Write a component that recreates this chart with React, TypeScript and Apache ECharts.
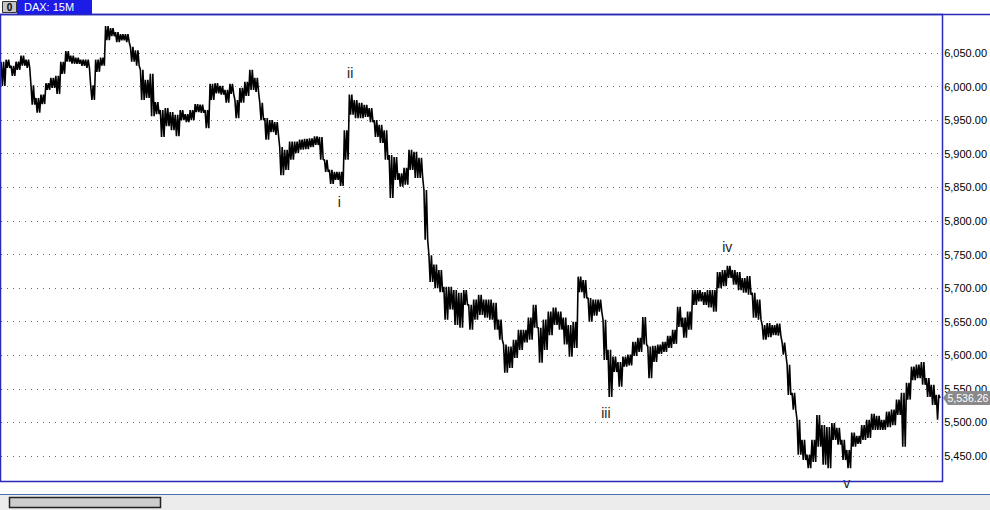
import React, { useEffect, useRef } from "react";
import * as echarts from "echarts";

// Per-bar (about every 5 px, 15-minute bars grouped) highs and lows of the DAX
const highs = [
  6037, 6040, 6031, 6037, 6046, 6040, 6002, 5983, 5988, 6005,
  6013, 6016, 6037, 6053, 6046, 6043, 6040, 6040, 6002, 6040,
  6043, 6090, 6087, 6081, 6078, 6078, 6059, 6054, 6025, 6010,
  6019, 5977, 5965, 5968, 5962, 5958, 5965, 5959, 5965, 5974,
  5973, 5965, 6004, 6005, 6001, 5995, 6004, 5980, 5998, 6007,
  6025, 6013, 5976, 5953, 5950, 5947, 5910, 5906, 5918, 5918,
  5921, 5922, 5923, 5926, 5925, 5891, 5876, 5873, 5873, 5935,
  5988, 5980, 5976, 5973, 5968, 5950, 5943, 5935, 5898, 5895,
  5871, 5879, 5906, 5903, 5894, 5846, 5749, 5735, 5727, 5702,
  5702, 5697, 5693, 5697, 5675, 5683, 5690, 5683, 5683, 5678,
  5653, 5616, 5613, 5623, 5638, 5638, 5656, 5675, 5641, 5653,
  5665, 5671, 5665, 5656, 5645, 5650, 5717, 5712, 5685, 5683,
  5683, 5653, 5608, 5598, 5590, 5598, 5601, 5620, 5626, 5657,
  5613, 5614, 5616, 5620, 5629, 5638, 5672, 5656, 5665, 5697,
  5697, 5694, 5697, 5697, 5724, 5727, 5733, 5727, 5724, 5715,
  5718, 5693, 5683, 5645, 5648, 5645, 5647, 5619, 5586, 5544,
  5504, 5474, 5452, 5474, 5511, 5496, 5493, 5499, 5492, 5474,
  5459, 5485, 5480, 5496, 5504, 5513, 5510, 5504, 5516, 5519,
  5534, 5544, 5559, 5583, 5586, 5590, 5566, 5556, 5541,
];
const lows = [
  6001, 6028, 6016, 6025, 6031, 6028, 5973, 5961, 5974, 5995,
  5998, 5989, 6019, 6037, 6034, 6034, 6031, 6028, 5980, 6022,
  6031, 6069, 6075, 6066, 6069, 6066, 6037, 6031, 5980, 5983,
  5956, 5959, 5925, 5941, 5935, 5926, 5950, 5947, 5950, 5962,
  5961, 5938, 5980, 5990, 5988, 5976, 5989, 5953, 5976, 5986,
  5995, 5992, 5950, 5921, 5932, 5928, 5868, 5876, 5891, 5901,
  5906, 5907, 5910, 5913, 5891, 5873, 5855, 5861, 5852, 5891,
  5958, 5953, 5953, 5955, 5947, 5925, 5916, 5891, 5834, 5861,
  5851, 5854, 5876, 5864, 5864, 5772, 5709, 5700, 5694, 5653,
  5668, 5645, 5641, 5675, 5638, 5653, 5660, 5656, 5653, 5638,
  5623, 5574, 5581, 5596, 5608, 5619, 5623, 5641, 5589, 5608,
  5630, 5645, 5638, 5616, 5598, 5611, 5694, 5685, 5650, 5659,
  5665, 5593, 5538, 5575, 5553, 5583, 5585, 5599, 5605, 5616,
  5566, 5590, 5602, 5605, 5611, 5617, 5642, 5626, 5638, 5675,
  5680, 5675, 5671, 5665, 5700, 5703, 5715, 5705, 5697, 5693,
  5690, 5656, 5653, 5623, 5627, 5630, 5629, 5601, 5541, 5519,
  5452, 5444, 5432, 5441, 5464, 5437, 5432, 5474, 5467, 5444,
  5432, 5464, 5468, 5474, 5477, 5489, 5489, 5489, 5493, 5496,
  5511, 5464, 5534, 5563, 5566, 5556, 5538, 5526, 5504,
];
const lastPrice = 5536.26;

// Elliott-wave annotations: label, bar index, price
const waveLabels = ["i", "ii", "iii", "iv", "v"];
const waveIndex = [67.6, 69.8, 121.2, 145.6, 169.6];
const wavePrice = [5828, 6020, 5514, 5761, 5410];

const fmt = (v: number) =>
  v.toLocaleString("en-US", { minimumFractionDigits: 2, maximumFractionDigits: 2 });

export default function App() {
  const ref = useRef<HTMLDivElement>(null);
  useEffect(() => {
    const chart = echarts.init(ref.current!, null, { renderer: "svg" });
    const pts: number[][] = [];
    const sub = 4;
    highs.forEach((h, i) => {
      const l = lows[i];
      for (let k = 0; k < sub; k++) {
        pts.push([i - 0.5 + (k + 0.5) / sub, k % 2 === 0 ? h : l]);
      }
    });
    pts[pts.length - 1] = [highs.length - 1 + 0.375, lastPrice];

    chart.setOption({
      animation: false,
      backgroundColor: "#ffffff",
      grid: { left: 1, right: 47, top: 19.4, bottom: 20.4 },
      xAxis: {
        type: "value",
        min: -0.4,
        max: highs.length - 0.6,
        show: false,
      },
      yAxis: {
        type: "value",
        position: "right",
        min: 5400,
        max: 6100,
        interval: 50,
        axisLine: { show: false },
        axisTick: { show: false },
        axisLabel: {
          showMinLabel: false,
          showMaxLabel: false,
          color: "#000",
          fontFamily: "Liberation Sans",
          fontSize: 11,
          margin: 4,
          formatter: (v: number) => fmt(v),
        },
        splitLine: {
          show: true,
          showMinLine: false,
          showMaxLine: false,
          lineStyle: { color: "#6a6a6a", type: [1, 5], width: 1 },
        },
      },
      series: [
        {
          type: "line",
          data: pts,
          symbol: "none",
          lineStyle: { color: "#000", width: 1.6 },
          clip: true,
          markPoint: {
            symbol: "circle",
            symbolSize: 0,
            label: {
              show: true,
              position: "inside",
              color: "#222",
              fontSize: 14,
              fontFamily: "Liberation Sans",
              formatter: (p: any) => p.name,
            },
            data: waveLabels.map((t, k) => ({
              name: t,
              coord: [waveIndex[k], wavePrice[k]],
            })),
          },
        },
      ],
    });

    const py = chart.convertToPixel({ yAxisIndex: 0 }, lastPrice) as number;
    chart.setOption({
      graphic: [
        {
          type: "rect",
          shape: { x: 0.5, y: 14.5, width: 942, height: 467 },
          style: { fill: "none", stroke: "#2a2ab8", lineWidth: 1.5 },
          z: 100,
        },
        {
          type: "line",
          shape: { x1: 0, y1: 14.5, x2: 990, y2: 14.5 },
          style: { stroke: "#2a2ab8", lineWidth: 1.5 },
          z: 100,
        },
        {
          type: "rect",
          shape: { x: 17, y: 0, width: 75, height: 14 },
          style: { fill: "#1c1ce6" },
          z: 100,
        },
        {
          type: "text",
          x: 24,
          y: 7,
          style: {
            text: "DAX: 15M",
            fill: "#fff",
            font: "11px 'Liberation Sans'",
            textVerticalAlign: "middle",
          },
          z: 101,
        },
        {
          type: "rect",
          shape: { x: 2.5, y: 1.5, width: 14, height: 11 },
          style: { fill: "#c6c6c6", stroke: "#333", lineWidth: 1 },
          z: 100,
        },
        {
          type: "text",
          x: 9.5,
          y: 7,
          style: {
            text: "0",
            fill: "#000",
            font: "bold 10px 'Liberation Sans'",
            textAlign: "center",
            textVerticalAlign: "middle",
          },
          z: 101,
        },
        {
          type: "rect",
          shape: { x: 0, y: 494, width: 990, height: 16 },
          style: { fill: "#ececec" },
          z: 100,
        },
        {
          type: "line",
          shape: { x1: 0, y1: 494.5, x2: 990, y2: 494.5 },
          style: { stroke: "#4a6fb0", lineWidth: 1 },
          z: 101,
        },
        {
          type: "rect",
          shape: { x: 9.5, y: 497.5, width: 151, height: 10 },
          style: { fill: "#cdcdcd", stroke: "#222", lineWidth: 1.5 },
          z: 101,
        },
        {
          type: "polygon",
          shape: {
            points: [
              [943, py],
              [948, py - 7],
              [990, py - 7],
              [990, py + 7],
              [948, py + 7],
            ],
          },
          style: { fill: "#8a8a8a" },
          z: 102,
        },
        {
          type: "text",
          x: 947.5,
          y: py,
          style: {
            text: fmt(lastPrice),
            fill: "#fff",
            font: "10.5px 'Liberation Sans'",
            textVerticalAlign: "middle",
          },
          z: 103,
        },
      ],
    });

    return () => chart.dispose();
  }, []);
  return (
    <div
      ref={ref}
      style={{ position: "fixed", left: 0, top: 0, width: 990, height: 510 }}
    />
  );
}
